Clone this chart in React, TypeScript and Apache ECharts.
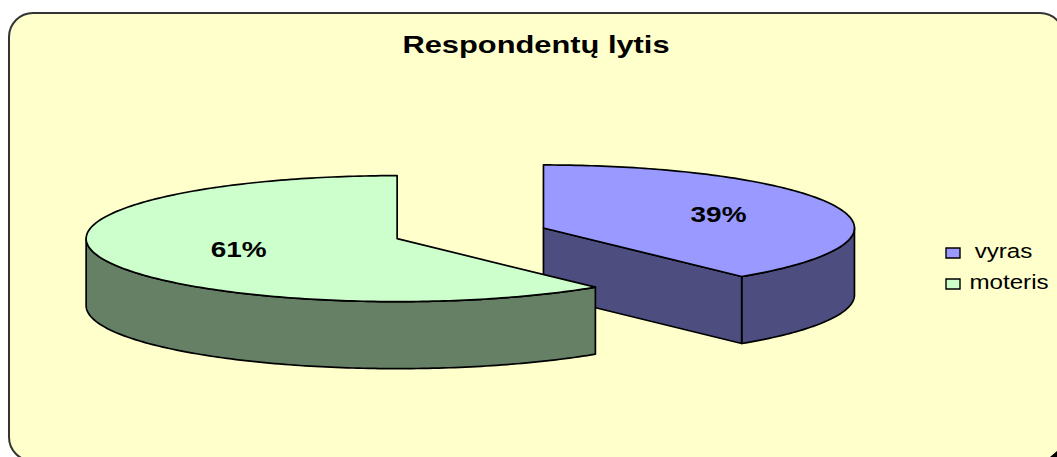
import React, { useEffect, useRef } from "react";
import * as echarts from "echarts";

const titleText = "Respondentų lytis";
const categories = ["vyras", "moteris"];
const values = [39, 61];
const percentLabels = ["39%", "61%"];
const topColors = ["#9999ff", "#ccffcc"];
const wallColors = ["#4d4d80", "#668066"];

const W = 1057;
const H = 457;
const CX = 470.3;
const CY = 233.3;
const RX = 311;
const RY = 63;
const DEPTH = 67;
const EXPLODE = 0.25;
const LABEL_FRACTION = [0.6, 0.54];
const FONT = '"Liberation Sans", Arial, sans-serif';
const INK = "#000";

const total = values.reduce((a, b) => a + b, 0);

function sliceAngles(i: number) {
  const before = values.slice(0, i).reduce((a, b) => a + b, 0);
  return [(before / total) * 360, ((before + values[i]) / total) * 360];
}

function rim(cx: number, cy: number, deg: number): number[] {
  const r = (deg * Math.PI) / 180;
  return [cx + RX * Math.sin(r), cy - RY * Math.cos(r)];
}

function arc(cx: number, cy: number, a: number, b: number): number[][] {
  const pts: number[][] = [];
  const steps = Math.max(2, Math.ceil(Math.abs(b - a)));
  for (let k = 0; k <= steps; k++) pts.push(rim(cx, cy, a + ((b - a) * k) / steps));
  return pts;
}

function renderSlice(i: number) {
  const [start, end] = sliceAngles(i);
  const mid = (start + end) / 2;
  const mr = (mid * Math.PI) / 180;
  const cx = CX + EXPLODE * RX * Math.sin(mr);
  const cy = CY - EXPLODE * RY * Math.cos(mr);
  const children: any[] = [];
  const line = { stroke: INK, lineWidth: 1.7, lineJoin: "round" };
  const wall = { ...line, fill: wallColors[i] };

  // outer wall: the part of the rim that faces the viewer
  const a = Math.max(start, 90);
  const b = Math.min(end, 270);
  if (b > a) {
    const upper = arc(cx, cy, a, b);
    const lower = upper.map((p) => [p[0], p[1] + DEPTH]).reverse();
    children.push({ type: "polygon", shape: { points: [...upper, ...lower] }, style: wall });
  }
  // cut faces that face the viewer: a slice's clockwise edge up to 180 degrees,
  // its counter-clockwise edge past 180 degrees
  const cutFaces: number[] = [];
  if (Math.sin((end * Math.PI) / 180) > 1e-6) cutFaces.push(end);
  if (Math.sin((start * Math.PI) / 180) < -1e-6) cutFaces.push(start);
  cutFaces.forEach((ang) => {
    const e = rim(cx, cy, ang);
    children.push({
      type: "polygon",
      shape: { points: [[cx, cy], e, [e[0], e[1] + DEPTH], [cx, cy + DEPTH]] },
      style: wall,
    });
  });
  // top face
  children.push({
    type: "polygon",
    shape: { points: [[cx, cy], ...arc(cx, cy, start, end)] },
    style: { ...line, fill: topColors[i] },
  });
  // percent label
  const f = LABEL_FRACTION[i];
  children.push({
    type: "text",
    x: cx + f * RX * Math.sin(mr) - 0.5,
    y: cy - f * RY * Math.cos(mr) - 1.5,
    scaleX: 1.27,
    style: {
      text: percentLabels[i],
      font: `bold 22px ${FONT}`,
      fill: "#000",
      align: "center",
      verticalAlign: "middle",
    },
  });
  return { type: "group", children };
}

const legendRowY = [253, 284];
const legendTextY = [251, 282];
const legendTextX = [1003.5, 1009];

export default function App() {
  const ref = useRef<HTMLDivElement>(null);
  useEffect(() => {
    document.body.style.margin = "0";
    document.body.style.background = "#fff";
    const chart = echarts.init(ref.current!, null, { renderer: "svg" });
    const legend: any[] = [];
    categories.forEach((name, i) => {
      legend.push({
        type: "rect",
        shape: { x: 946, y: legendRowY[i] - 5, width: 14, height: 10 },
        style: { fill: topColors[i], stroke: INK, lineWidth: 1.4 },
      });
      legend.push({
        type: "text",
        x: legendTextX[i],
        y: legendTextY[i],
        scaleX: 1.24,
        style: {
          text: name,
          font: `19.5px ${FONT}`,
          fill: "#000",
          align: "center",
          verticalAlign: "middle",
        },
      });
    });
    chart.setOption({
      animation: false,
      graphic: [
        {
          type: "rect",
          shape: { x: 9, y: 13, width: 1055, height: 448, r: 24 },
          style: { fill: "#ffffcc", stroke: "#333", lineWidth: 2 },
          z: -2,
        },
        {
          type: "polygon",
          shape: { points: [[1057, 451], [1057, 457], [1050, 457]] },
          style: { fill: "#000" },
          z: -1,
        },
        {
          type: "text",
          x: 536,
          y: 45,
          scaleX: 1.34,
          style: {
            text: titleText,
            font: `bold 23px ${FONT}`,
            fill: "#000",
            align: "center",
            verticalAlign: "middle",
          },
        },
        ...legend,
      ],
      series: categories.map((name, i) => ({
        type: "custom",
        name,
        coordinateSystem: "none",
        silent: true,
        data: [values[i]],
        renderItem: () => renderSlice(i),
      })),
    });
    return () => chart.dispose();
  }, []);
  return <div ref={ref} style={{ position: "absolute", left: 0, top: 0, width: W, height: H }} />;
}
